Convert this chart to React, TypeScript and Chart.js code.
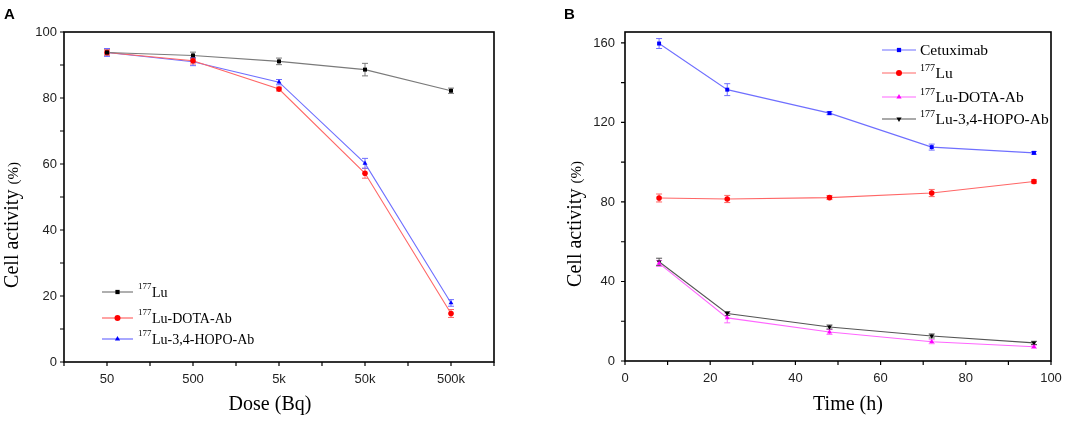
import React, { useEffect, useRef } from 'react'
import { Chart, registerables } from 'chart.js'
import { drawPoint } from 'chart.js/helpers'

Chart.register(...registerables)

// panel A: cell activity vs dose
const doseLabels = ['50', '500', '5k', '50k', '500k']
const luDose = [93.8, 92.9, 91.1, 88.6, 82.2]
const luDoseErr = [0.8, 1.0, 1.0, 1.9, 0.8]
const dotaDose = [93.8, 91.3, 82.7, 57.2, 14.7]
const dotaDoseErr = [0.8, 1.0, 0.6, 1.5, 1.2]
const hopoDose = [93.8, 91.0, 84.8, 60.2, 17.9]
const hopoDoseErr = [1.2, 1.2, 0.8, 1.5, 1.0]
const doseYTicks = [0, 20, 40, 60, 80, 100]

// panel B: cell activity vs time
const timePoints = [8, 24, 48, 72, 96]
const cetuxTime = [159.7, 136.5, 124.7, 107.6, 104.7]
const cetuxTimeErr = [2.5, 3.0, 0.8, 1.5, 0.7]
const luTime = [82.0, 81.5, 82.2, 84.5, 90.3]
const luTimeErr = [2.0, 1.8, 1.0, 1.8, 0.9]
const dotaTime = [49.1, 21.7, 14.6, 9.7, 7.2]
const dotaTimeErr = [1.5, 2.5, 1.2, 1.0, 0.8]
const hopoTime = [49.9, 23.9, 17.1, 12.6, 9.1]
const hopoTimeErr = [1.8, 1.0, 1.0, 1.0, 0.8]
const timeXTicks = [0, 20, 40, 60, 80, 100]
const timeYTicks = [0, 40, 80, 120, 160]

const SERIF = '"Liberation Serif", "Times New Roman", serif'
const SANS = '"Liberation Sans", Arial, sans-serif'

const withHalves = (ticks: number[]) => {
    const out: number[] = []
    ticks.forEach((t, i) => {
        out.push(t)
        if (i < ticks.length - 1) out.push((t + ticks[i + 1]) / 2)
    })
    return out
}

// error bars drawn under the lines
const errorBars = {
    id: 'errorBars',
    beforeDatasetsDraw(chart: any) {
        const ctx = chart.ctx
        const yScale = chart.scales.y
        chart.data.datasets.forEach((ds: any, i: number) => {
            if (!ds.errors) return
            const meta = chart.getDatasetMeta(i)
            ctx.save()
            ctx.strokeStyle = ds.borderColor
            ctx.lineWidth = 1
            meta.data.forEach((pt: any, j: number) => {
                const v = meta.controller.getParsed(j).y
                const e = ds.errors[j]
                const x = pt.x
                const y1 = yScale.getPixelForValue(v + e)
                const y2 = yScale.getPixelForValue(v - e)
                ctx.beginPath()
                ctx.moveTo(x, y1)
                ctx.lineTo(x, y2)
                ctx.moveTo(x - 3, y1)
                ctx.lineTo(x + 3, y1)
                ctx.moveTo(x - 3, y2)
                ctx.lineTo(x + 3, y2)
                ctx.stroke()
            })
            ctx.restore()
        })
    }
}

// box frame plus outward major/minor ticks on the left and bottom
const frame = {
    id: 'frame',
    afterDraw(chart: any, _args: any, opts: any) {
        const ctx = chart.ctx
        const { left, right, top, bottom } = chart.chartArea
        ctx.save()
        ctx.strokeStyle = '#000'
        ctx.lineWidth = 1.6
        ctx.strokeRect(left, top, right - left, bottom - top)
        ctx.lineWidth = 1.2
        ctx.beginPath()
        opts.xMarks.forEach((v: number) => {
            const x = chart.scales.x.getPixelForValue(v)
            ctx.moveTo(x, bottom)
            ctx.lineTo(x, bottom + 4)
        })
        opts.yMarks.forEach((v: number) => {
            const y = chart.scales.y.getPixelForValue(v)
            ctx.moveTo(left, y)
            ctx.lineTo(left - 4, y)
        })
        ctx.stroke()
        ctx.restore()
    }
}

// serif axis titles, the y one with a smaller "(%)"
const axisTitles = {
    id: 'axisTitles',
    afterDraw(chart: any, _args: any, opts: any) {
        const ctx = chart.ctx
        ctx.save()
        ctx.fillStyle = '#000'
        ctx.textBaseline = 'middle'
        ctx.textAlign = 'center'
        ctx.font = `20px ${SERIF}`
        ctx.fillText(opts.xText, opts.xCenter, opts.xY)

        ctx.translate(opts.yX, opts.yCenter)
        ctx.rotate(-Math.PI / 2)
        ctx.textAlign = 'left'
        ctx.font = `20px ${SERIF}`
        const w1 = ctx.measureText(opts.yText).width
        ctx.font = `15px ${SERIF}`
        const w2 = ctx.measureText(opts.yUnit).width
        let tx = -(w1 + w2) / 2
        ctx.font = `20px ${SERIF}`
        ctx.fillText(opts.yText, tx, 0)
        tx += w1
        ctx.font = `15px ${SERIF}`
        ctx.fillText(opts.yUnit, tx, 1)
        ctx.restore()
    }
}

// legend with superscript isotope numbers
const supLegend = {
    id: 'supLegend',
    afterDraw(chart: any, _args: any, opts: any) {
        const ctx = chart.ctx
        ctx.save()
        chart.data.datasets.forEach((ds: any, i: number) => {
            const y = opts.rows[i]
            const x = opts.x
            ctx.strokeStyle = ds.borderColor
            ctx.lineWidth = 1.2
            ctx.beginPath()
            ctx.moveTo(x, y)
            ctx.lineTo(x + opts.lineLen, y)
            ctx.stroke()
            ctx.fillStyle = ds.pointBackgroundColor
            drawPoint(ctx, {
                pointStyle: ds.pointStyle,
                rotation: ds.pointRotation || 0,
                radius: 3,
                borderWidth: 0
            } as any, x + opts.lineLen / 2, y)
            const m = /^(\d+)(.*)$/.exec(ds.label)
            let tx = x + opts.lineLen + opts.gap
            ctx.fillStyle = '#000'
            ctx.textBaseline = 'middle'
            ctx.textAlign = 'left'
            if (m) {
                ctx.font = `${opts.supSize}px ${SERIF}`
                ctx.fillText(m[1], tx, y - 5)
                tx += ctx.measureText(m[1]).width + 0.5
                ctx.font = `${opts.size}px ${SERIF}`
                ctx.fillText(m[2], tx, y + 1)
            } else {
                ctx.font = `${opts.size}px ${SERIF}`
                ctx.fillText(ds.label, tx, y + 1)
            }
        })
        ctx.restore()
    }
}

const series = (label: string, data: any[], errors: number[], line: string, mark: string, style: string, rotation = 0) => ({
    label,
    data,
    errors,
    borderColor: line,
    borderWidth: 1.1,
    pointBackgroundColor: mark,
    pointBorderWidth: 0,
    pointRadius: 2.8,
    pointStyle: style,
    pointRotation: rotation,
    tension: 0,
    fill: false
})

const tickFont = { family: SANS, size: 13 }

const App: React.FunctionComponent = () => {
    const refA = useRef<HTMLCanvasElement>(null)
    const refB = useRef<HTMLCanvasElement>(null)

    useEffect(() => {
        const chartA = new Chart(refA.current as HTMLCanvasElement, {
            type: 'line',
            data: {
                labels: doseLabels,
                datasets: [
                    series('177Lu', luDose, luDoseErr, '#7a7a7a', '#000000', 'rect'),
                    series('177Lu-DOTA-Ab', dotaDose, dotaDoseErr, '#ff6666', '#ff0000', 'circle'),
                    series('177Lu-3,4-HOPO-Ab', hopoDose, hopoDoseErr, '#6f6fff', '#0000ff', 'triangle')
                ] as any
            },
            options: {
                animation: false,
                responsive: true,
                maintainAspectRatio: false,
                layout: { padding: { top: 32, right: 46, left: 0, bottom: 0 } },
                plugins: {
                    legend: { display: false },
                    tooltip: { enabled: false },
                    frame: {
                        xMarks: withHalves(doseLabels.map((_, i) => i)).concat([-0.5, doseLabels.length - 0.5]),
                        yMarks: withHalves(doseYTicks)
                    },
                    axisTitles: {
                        xText: 'Dose (Bq)', xCenter: 270, xY: 405,
                        yText: 'Cell activity ', yUnit: '(%)', yX: 13, yCenter: 225
                    },
                    supLegend: { x: 102, lineLen: 31, gap: 5, size: 14, supSize: 9, rows: [292, 318, 339] }
                } as any,
                scales: {
                    x: {
                        type: 'category',
                        offset: true,
                        grid: { display: false, drawTicks: false },
                        border: { display: false },
                        ticks: { font: tickFont, color: '#222', padding: 10 },
                        afterFit: (s: any) => { s.height = 59 }
                    },
                    y: {
                        min: 0,
                        max: 100,
                        grid: { display: false, drawTicks: false },
                        border: { display: false },
                        afterBuildTicks: (s: any) => { s.ticks = doseYTicks.map(v => ({ value: v })) },
                        ticks: { font: tickFont, color: '#222', padding: 7 },
                        afterFit: (s: any) => { s.width = 64 }
                    }
                }
            },
            plugins: [errorBars, frame, axisTitles, supLegend]
        })

        const pts = (ys: number[]) => ys.map((y, i) => ({ x: timePoints[i], y }))

        const chartB = new Chart(refB.current as HTMLCanvasElement, {
            type: 'line',
            data: {
                datasets: [
                    series('Cetuximab', pts(cetuxTime), cetuxTimeErr, '#6f6fff', '#0000ff', 'rect'),
                    series('177Lu', pts(luTime), luTimeErr, '#ff6666', '#ff0000', 'circle'),
                    series('177Lu-DOTA-Ab', pts(dotaTime), dotaTimeErr, '#ff66ff', '#ff00ff', 'triangle'),
                    series('177Lu-3,4-HOPO-Ab', pts(hopoTime), hopoTimeErr, '#555555', '#000000', 'triangle', 180)
                ] as any
            },
            options: {
                animation: false,
                responsive: true,
                maintainAspectRatio: false,
                layout: { padding: { top: 32, right: 33, left: 24, bottom: 0 } },
                plugins: {
                    legend: { display: false },
                    tooltip: { enabled: false },
                    frame: {
                        xMarks: withHalves(timeXTicks),
                        yMarks: withHalves(timeYTicks)
                    },
                    axisTitles: {
                        xText: 'Time (h)', xCenter: 308, xY: 405,
                        yText: 'Cell activity ', yUnit: '(%)', yX: 36, yCenter: 224
                    },
                    supLegend: { x: 342, lineLen: 34, gap: 4, size: 15.5, supSize: 10, rows: [50, 73, 97, 119] }
                } as any,
                scales: {
                    x: {
                        type: 'linear',
                        min: 0,
                        max: 100,
                        grid: { display: false, drawTicks: false },
                        border: { display: false },
                        afterBuildTicks: (s: any) => { s.ticks = timeXTicks.map(v => ({ value: v })) },
                        ticks: { font: tickFont, color: '#222', padding: 10 },
                        afterFit: (s: any) => { s.height = 60 }
                    },
                    y: {
                        min: 0,
                        max: 165.5,
                        grid: { display: false, drawTicks: false },
                        border: { display: false },
                        afterBuildTicks: (s: any) => { s.ticks = timeYTicks.map(v => ({ value: v })) },
                        ticks: { font: tickFont, color: '#222', padding: 10 },
                        afterFit: (s: any) => { s.width = 61 }
                    }
                }
            },
            plugins: [errorBars, frame, axisTitles, supLegend]
        })

        return () => {
            chartA.destroy()
            chartB.destroy()
        }
    }, [])

    return (
        <div style={{ position: 'absolute', left: 0, top: 0, width: 1084, height: 421, background: '#fff' }}>
            <div style={{ position: 'absolute', left: 0, top: 0, width: 540, height: 421 }}>
                <canvas ref={refA}></canvas>
            </div>
            <div style={{ position: 'absolute', left: 540, top: 0, width: 544, height: 421 }}>
                <canvas ref={refB}></canvas>
            </div>
            <div style={{ position: 'absolute', left: 4, top: 5, font: `bold 15px ${SANS}` }}>A</div>
            <div style={{ position: 'absolute', left: 564, top: 5, font: `bold 15px ${SANS}` }}>B</div>
        </div>
    )
}

export default App
